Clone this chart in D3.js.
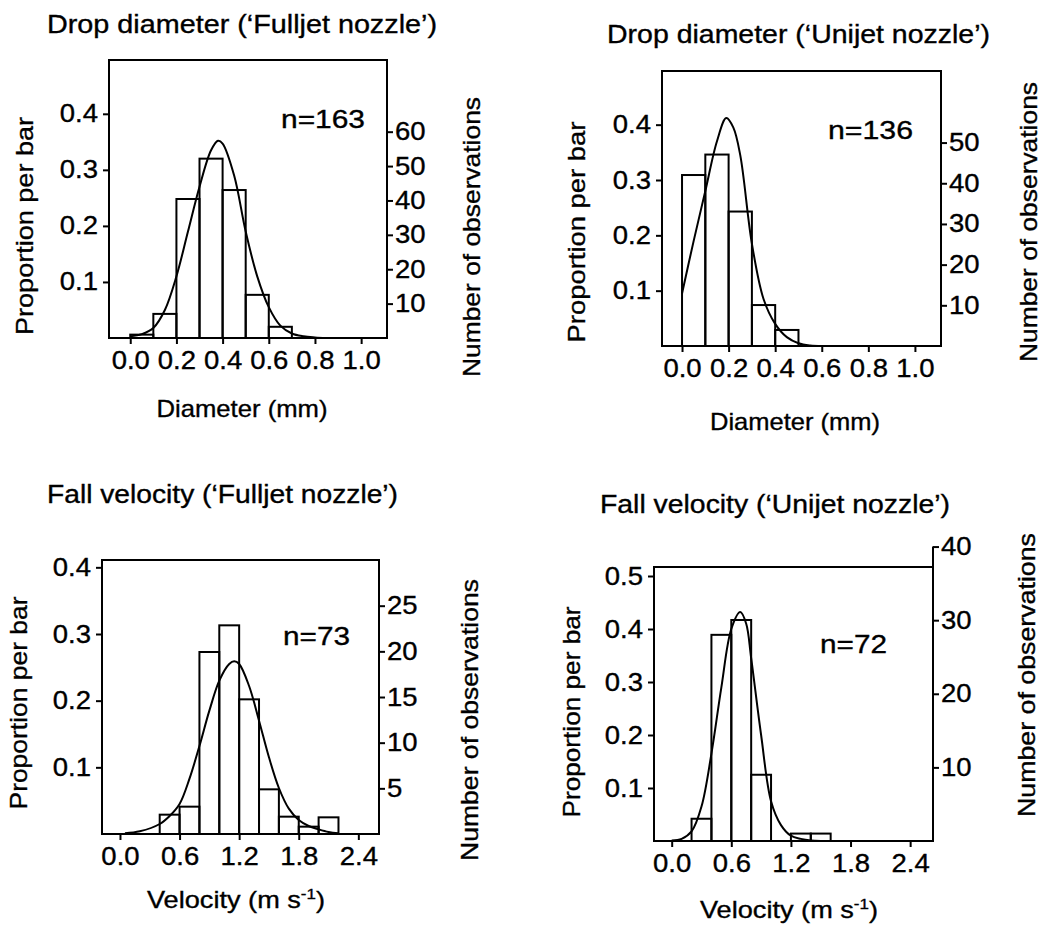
<!DOCTYPE html>
<html>
<head>
<meta charset="utf-8">
<script src="https://cdn.jsdelivr.net/npm/d3@7/dist/d3.min.js"></script>
<style>
  html, body { margin: 0; padding: 0; background: #fff; }
  svg { display: block; }
</style>
</head>
<body>
<script>
// ---------------- DATA ----------------
const panelTitles = [
  "Drop diameter (\u2018Fulljet nozzle\u2019)",
  "Drop diameter (\u2018Unijet nozzle\u2019)",
  "Fall velocity (\u2018Fulljet nozzle\u2019)",
  "Fall velocity (\u2018Unijet nozzle\u2019)"
];
const sampleSizes = [163, 136, 73, 72];
const leftAxisTitle = "Proportion per bar";
const rightAxisTitle = "Number of observations";
const diameterAxisTitle = "Diameter (mm)";
const velocityAxisTitle = ["Velocity (m s", "-1", ")"];

const diameterTicks = [0.0, 0.2, 0.4, 0.6, 0.8, 1.0];
const velocityTicks = [0.0, 0.6, 1.2, 1.8, 2.4];
const proportionTicks = [0.1, 0.2, 0.3, 0.4];
const proportionTicksUnijetVel = [0.1, 0.2, 0.3, 0.4, 0.5];
const countTicksDiamFull = [10, 20, 30, 40, 50, 60];
const countTicksDiamUni = [10, 20, 30, 40, 50];
const countTicksVelFull = [5, 10, 15, 20, 25];
const countTicksVelUni = [10, 20, 30, 40];

const diameterBinWidth = 0.1;
const velocityBinWidth = 0.2;

// histogram bars (bin start, proportion per bar)
const diamFullBins = [0.0, 0.1, 0.2, 0.3, 0.4, 0.5, 0.6];
const diamFullProps = [0.006, 0.043, 0.248, 0.320, 0.264, 0.077, 0.020];
const diamUniBins = [0.0, 0.1, 0.2, 0.3, 0.4];
const diamUniProps = [0.309, 0.346, 0.243, 0.074, 0.029];
const velFullBins = [0.4, 0.6, 0.8, 1.0, 1.2, 1.4, 1.6, 1.8, 2.0];
const velFullProps = [0.029, 0.041, 0.273, 0.313, 0.202, 0.067, 0.026, 0.011, 0.025];
const velUniBins = [0.2, 0.4, 0.6, 0.8, 1.2, 1.4];
const velUniProps = [0.042, 0.389, 0.417, 0.125, 0.014, 0.014];

// fitted normal curves
const diamFullCurveX = [0.0, 0.05, 0.1, 0.15, 0.2, 0.25, 0.3, 0.35, 0.38, 0.4, 0.45, 0.5, 0.55, 0.6, 0.65, 0.7, 0.75, 0.8, 0.85];
const diamFullCurveY = [0.003, 0.007, 0.018, 0.05, 0.11, 0.19, 0.27, 0.335, 0.352, 0.347, 0.29, 0.19, 0.11, 0.055, 0.022, 0.008, 0.003, 0.001, 0.0];
const diamUniCurveX = [0.0, 0.05, 0.1, 0.15, 0.19, 0.22, 0.25, 0.3, 0.35, 0.4, 0.45, 0.5, 0.55, 0.6];
const diamUniCurveY = [0.095, 0.19, 0.28, 0.37, 0.412, 0.395, 0.345, 0.185, 0.085, 0.04, 0.016, 0.005, 0.001, 0.0];
const velFullCurveX = [0.05, 0.2, 0.4, 0.5, 0.6, 0.7, 0.8, 0.9, 1.0, 1.1, 1.15, 1.2, 1.3, 1.4, 1.5, 1.6, 1.7, 1.8, 1.9, 2.0, 2.1, 2.2];
const velFullCurveY = [0.001, 0.004, 0.015, 0.027, 0.045, 0.083, 0.132, 0.185, 0.23, 0.255, 0.259, 0.255, 0.222, 0.17, 0.115, 0.069, 0.038, 0.021, 0.012, 0.007, 0.003, 0.001];
const velUniCurveX = [0.0, 0.1, 0.2, 0.3, 0.4, 0.5, 0.6, 0.69, 0.75, 0.8, 0.9, 1.0, 1.1, 1.2, 1.3, 1.4, 1.5];
const velUniCurveY = [0.001, 0.004, 0.018, 0.065, 0.165, 0.29, 0.40, 0.432, 0.41, 0.345, 0.2, 0.075, 0.03, 0.01, 0.004, 0.001, 0.0];

// ---------------- PANELS (built from the arrays) ----------------
const panels = [
  { title: panelTitles[0], n: sampleSizes[0], bins: diamFullBins, props: diamFullProps, bw: diameterBinWidth,
    cx: diamFullCurveX, cy: diamFullCurveY, xTicks: diameterTicks, yTicks: proportionTicks, cTicks: countTicksDiamFull, xTitle: "diam" },
  { title: panelTitles[1], n: sampleSizes[1], bins: diamUniBins, props: diamUniProps, bw: diameterBinWidth,
    cx: diamUniCurveX, cy: diamUniCurveY, xTicks: diameterTicks, yTicks: proportionTicks, cTicks: countTicksDiamUni, xTitle: "diam" },
  { title: panelTitles[2], n: sampleSizes[2], bins: velFullBins, props: velFullProps, bw: velocityBinWidth,
    cx: velFullCurveX, cy: velFullCurveY, xTicks: velocityTicks, yTicks: proportionTicks, cTicks: countTicksVelFull, xTitle: "vel" },
  { title: panelTitles[3], n: sampleSizes[3], bins: velUniBins, props: velUniProps, bw: velocityBinWidth,
    cx: velUniCurveX, cy: velUniCurveY, xTicks: velocityTicks, yTicks: proportionTicksUnijetVel, cTicks: countTicksVelUni, xTitle: "vel" }
];

// ---------------- LAYOUT ----------------
const W = 1042, H = 928;
const FONT = "'Liberation Sans', Arial, Helvetica, sans-serif";
const layouts = [
  { L: 109, R: 387, T: 60, B: 338, xd: [-0.092, 1.112], ymax: 0.496,
    title: [47, 33, 390], nl: [281, 128, 84], xt: [242, 417, 171], yl: [33, 226, 218], yr: [480, 237, 280] },
  { L: 662, R: 941, T: 71, B: 346, xd: [-0.086, 1.112], ymax: 0.497,
    title: [607, 43, 383], nl: [828, 139, 85], xt: [795, 430, 170], yl: [585, 232, 221], yr: [1037, 222, 280] },
  { L: 102, R: 379, T: 560, B: 834, xd: [-0.181, 2.608], ymax: 0.411,
    title: [47, 503, 351], nl: [283, 645, 67], xt: [236, 908, 178], yl: [27, 703, 213], yr: [478, 720, 282] },
  { L: 654, R: 933, T: 567, B: 841, xd: [-0.178, 2.63], ymax: 0.517,
    title: [600, 513, 350], nl: [820, 653, 67], xt: [789, 918, 178], yl: [580, 712, 211], yr: [1035, 675, 284] }
];

const svg = d3.select("body").append("svg")
  .attr("width", W).attr("height", H)
  .attr("font-family", FONT);
svg.append("rect").attr("width", W).attr("height", H).attr("fill", "#fff");

function fit(sel, len) {
  sel.attr("textLength", len).attr("lengthAdjust", "spacingAndGlyphs")
     .attr("stroke", "#000").attr("stroke-width", 0.35);
}
function widen(sel, f) {
  sel.each(function () {
    const l = this.getComputedTextLength();
    d3.select(this).attr("textLength", l * f).attr("lengthAdjust", "spacingAndGlyphs")
      .attr("stroke", "#000").attr("stroke-width", 0.35);
  });
}

panels.forEach((p, i) => {
  const lay = layouts[i];
  const x = d3.scaleLinear().domain(lay.xd).range([lay.L, lay.R]);
  const y = d3.scaleLinear().domain([0, lay.ymax]).range([lay.B, lay.T]);
  const yc = d3.scaleLinear().domain([0, lay.ymax * p.n]).range([lay.B, lay.T]);
  const g = svg.append("g");

  // bars
  const barData = p.bins.map((b, j) => ({ x0: b, x1: b + p.bw, v: p.props[j] }));
  g.selectAll("rect.bar").data(barData).join("rect")
    .attr("class", "bar")
    .attr("x", d => x(d.x0))
    .attr("y", d => y(d.v))
    .attr("width", d => x(d.x1) - x(d.x0))
    .attr("height", d => y(0) - y(d.v))
    .attr("fill", "none").attr("stroke", "#000").attr("stroke-width", 2);

  // fitted curve
  const pts = p.cx.map((v, j) => [v, p.cy[j]]);
  g.append("path").datum(pts)
    .attr("d", d3.line().x(d => x(d[0])).y(d => y(d[1])).curve(d3.curveCatmullRom.alpha(0.5)))
    .attr("fill", "none").attr("stroke", "#000").attr("stroke-width", 2);

  // frame
  g.append("rect")
    .attr("x", lay.L).attr("y", lay.T)
    .attr("width", lay.R - lay.L).attr("height", lay.B - lay.T)
    .attr("fill", "none").attr("stroke", "#000").attr("stroke-width", 2);

  // right axis extension if ticks go beyond frame top
  const topCount = yc(d3.max(p.cTicks));
  if (topCount < lay.T) {
    g.append("line").attr("x1", lay.R).attr("x2", lay.R)
      .attr("y1", lay.T).attr("y2", topCount)
      .attr("stroke", "#000").attr("stroke-width", 2);
  }

  const styleAxis = (ax) => {
    ax.select(".domain").remove();
    ax.attr("font-family", FONT).attr("font-size", 25);
    ax.selectAll("line").attr("stroke", "#000").attr("stroke-width", 2);
    ax.selectAll("text").attr("fill", "#000");
    widen(ax.selectAll("text"), 1.1);
  };

  const left = g.append("g").attr("transform", `translate(${lay.L},0)`)
    .call(d3.axisLeft(y).tickValues(p.yTicks).tickFormat(d3.format(".1f")).tickSize(6).tickPadding(5));
  styleAxis(left);

  const right = g.append("g").attr("transform", `translate(${lay.R},0)`)
    .call(d3.axisRight(yc).tickValues(p.cTicks).tickFormat(d3.format("d")).tickSize(6).tickPadding(2));
  styleAxis(right);

  const bottom = g.append("g").attr("transform", `translate(0,${lay.B})`)
    .call(d3.axisBottom(x).tickValues(p.xTicks).tickFormat(d3.format(".1f")).tickSize(6).tickPadding(7));
  styleAxis(bottom);

  // title
  fit(g.append("text").attr("x", lay.title[0]).attr("y", lay.title[1])
    .attr("font-size", 25).attr("fill", "#000").text(p.title), lay.title[2]);

  // n label
  fit(g.append("text").attr("x", lay.nl[0]).attr("y", lay.nl[1])
    .attr("font-size", 25).attr("fill", "#000").text("n=" + p.n), lay.nl[2]);

  // x axis title
  const xt = g.append("text").attr("x", lay.xt[0]).attr("y", lay.xt[1])
    .attr("text-anchor", "middle").attr("font-size", 24).attr("fill", "#000");
  if (p.xTitle === "diam") {
    xt.text(diameterAxisTitle);
  } else {
    xt.append("tspan").text(velocityAxisTitle[0]);
    xt.append("tspan").attr("dy", -9).attr("font-size", 15).text(velocityAxisTitle[1]);
    xt.append("tspan").attr("dy", 9).text(velocityAxisTitle[2]);
  }
  fit(xt, lay.xt[2]);

  // left y title
  fit(g.append("text")
    .attr("transform", `translate(${lay.yl[0]},${lay.yl[1]}) rotate(-90)`)
    .attr("text-anchor", "middle").attr("font-size", 24).attr("fill", "#000")
    .text(leftAxisTitle), lay.yl[2]);

  // right y title
  fit(g.append("text")
    .attr("transform", `translate(${lay.yr[0]},${lay.yr[1]}) rotate(-90)`)
    .attr("text-anchor", "middle").attr("font-size", 24).attr("fill", "#000")
    .text(rightAxisTitle), lay.yr[2]);
});
</script>
</body>
</html>
